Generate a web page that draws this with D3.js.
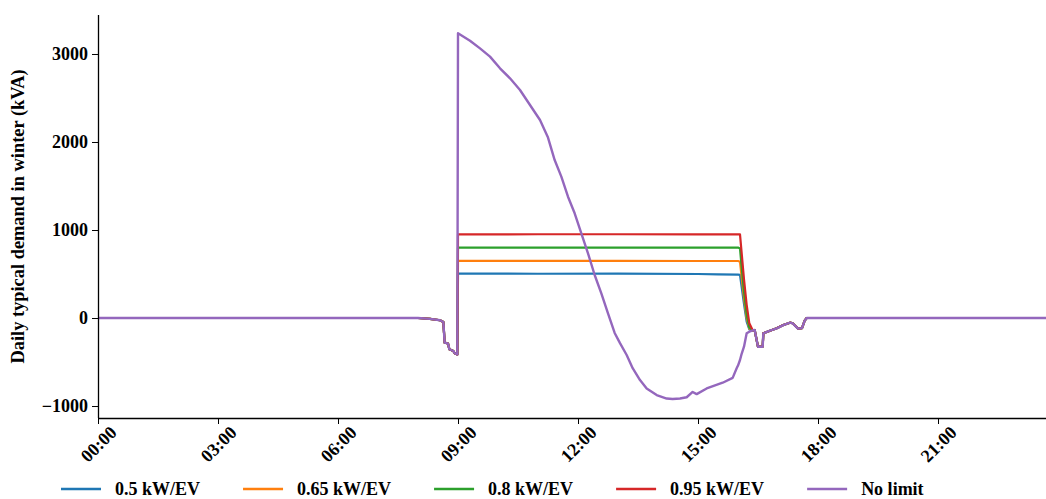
<!DOCTYPE html>
<html>
<head>
<meta charset="utf-8">
<script src="https://cdn.jsdelivr.net/npm/d3@7"></script>
<style>
  html, body { margin: 0; padding: 0; background: #fff; }
  text { font-family: "Liberation Serif", "Times New Roman", serif; font-weight: bold; }
</style>
</head>
<body>
<svg id="chart" width="1046" height="499"></svg>
<script>
// ---------------- DATA ----------------
const seriesNames = ["0.5 kW/EV", "0.65 kW/EV", "0.8 kW/EV", "0.95 kW/EV", "No limit"];
const seriesColors = ["#1f77b4", "#ff7f0e", "#2ca02c", "#d62728", "#9467bd"];

// shared morning part (all scenarios identical before 09:00)
const morningTimes  = ["00:00","08:00","08:18","08:33","08:38","08:40","08:45","08:47","08:53","08:55","08:59"];
const morningValues = [0, 0, -10, -25, -45, -280, -290, -355, -375, -400, -415];

// shared evening part (all scenarios identical after ~16:22)
const eveningTimes  = ["16:22","16:25","16:30","16:37","16:38","16:48","16:58","17:08","17:18","17:22","17:30","17:36","17:40","17:43","23:42"];
const eveningValues = [-140, -136, -326, -326, -174, -144, -117, -80, -53, -60, -120, -115, -30, 0, 0];

// unlimited charging, 09:00 - 16:17
const noLimitTimes  = ["09:00","09:18","09:33","09:48","10:03","10:18","10:33","10:48","11:03","11:15","11:25","11:35","11:45","11:55","12:05","12:15","12:25","12:35","12:45","12:55","13:03","13:13","13:22","13:33","13:43","13:58","14:13","14:22","14:33","14:43","14:52","14:58","15:13","15:37","15:52","15:58","16:00","16:03","16:05","16:09","16:13","16:17"];
const noLimitValues = [3235, 3151, 3064, 2970, 2837, 2724, 2591, 2420, 2250, 2050, 1795, 1606, 1378, 1190, 962, 735, 489, 280, 53, -170, -285, -420, -570, -705, -800, -875, -915, -920, -915, -900, -840, -865, -800, -735, -680, -570, -540, -477, -420, -326, -174, -155];

// limited charging scenarios, 09:00 - 16:17
const limitTimes   = ["09:00","11:00","13:00","15:00","15:30","16:00","16:03","16:05","16:09","16:13","16:17"];
const limit050     = [505, 503, 505, 500, 495, 493, 490, 380, 160, -40, -130];
const limit065     = [650, 650, 650, 648, 648, 648, 640, 500, 230, 0, -120];
const limit080     = [800, 800, 800, 800, 800, 800, 790, 620, 300, 40, -110];
const limit095     = [950, 952, 952, 950, 950, 950, 950, 780, 440, 150, -60];

const xTickLabels = ["00:00","03:00","06:00","09:00","12:00","15:00","18:00","21:00"];
const yTickValues = [-1000, 0, 1000, 2000, 3000];
const yLabel = "Daily typical demand in winter (kVA)";

// ---------------- BUILD ----------------
const toMin = s => { const [h, m] = s.split(":").map(Number); return h * 60 + m; };
const zip = (t, v) => t.map((s, i) => ({ t: toMin(s), v: v[i] }));
const build = (t, v) => zip(morningTimes, morningValues).concat(zip(t, v), zip(eveningTimes, eveningValues));

const series = [
  build(limitTimes, limit050),
  build(limitTimes, limit065),
  build(limitTimes, limit080),
  build(limitTimes, limit095),
  build(noLimitTimes, noLimitValues)
];

const svg = d3.select("#chart");
const L = 98, R = 1046, T = 15, B = 418;

const x = d3.scaleLinear().domain([0, toMin("23:42")]).range([L, R]);
const y = d3.scaleLinear().domain([-1136, 3443]).range([B, T]);

svg.append("defs").append("clipPath").attr("id", "clip")
  .append("rect").attr("x", L).attr("y", T).attr("width", R - L).attr("height", B - T);

const line = d3.line().x(d => x(d.t)).y(d => y(d.v));

const g = svg.append("g").attr("clip-path", "url(#clip)");
series.forEach((s, i) => {
  g.append("path").datum(s)
    .attr("d", line)
    .attr("fill", "none")
    .attr("stroke", seriesColors[i])
    .attr("stroke-width", i === 4 ? 2.4 : 2.2)
    .attr("stroke-linejoin", "round");
});

// axes
const fontSize = 18;
const yAxis = d3.axisLeft(y).tickValues(yTickValues).tickSize(6).tickSizeOuter(0).tickPadding(4)
  .tickFormat(d => d < 0 ? "\u2212" + Math.abs(d) : String(d));
const ya = svg.append("g").attr("transform", `translate(${L},0)`).call(yAxis);
ya.select(".domain").attr("d", `M0.5,${T}V${B}`).attr("stroke", "#000").attr("stroke-width", 1.3);
ya.selectAll("text").attr("font-size", fontSize).attr("fill", "#000")
  .style("font-family", "'Liberation Serif', serif").style("font-weight", "bold");

const xAxis = d3.axisBottom(x).tickValues(xTickLabels.map(toMin)).tickSize(6).tickSizeOuter(0)
  .tickFormat((d, i) => xTickLabels[i]);
const xa = svg.append("g").attr("transform", `translate(0,${B})`).call(xAxis);
xa.select(".domain").attr("d", `M${L},0.5H${R}`).attr("stroke", "#000").attr("stroke-width", 1.3);
xa.selectAll("text")
  .attr("font-size", fontSize).attr("fill", "#000")
  .style("font-family", "'Liberation Serif', serif").style("font-weight", "bold")
  .attr("y", 0).attr("dy", "0.35em")
  .attr("text-anchor", "middle")
  .attr("transform", "translate(0,26) rotate(-45)");

// y label
svg.append("text")
  .attr("transform", `translate(24,${(T + B) / 2}) rotate(-90)`)
  .attr("text-anchor", "middle")
  .attr("font-size", 18.4)
  .text(yLabel);

// legend
const lg = svg.append("g");
let cx = 61;
const ly = 489;
seriesNames.forEach((name, i) => {
  lg.append("line").attr("x1", cx).attr("x2", cx + 40).attr("y1", ly).attr("y2", ly)
    .attr("stroke", seriesColors[i]).attr("stroke-width", 2.6);
  const t = lg.append("text").attr("x", cx + 54).attr("y", ly).attr("dy", "0.35em")
    .attr("font-size", fontSize).text(name);
  cx = cx + 54 + t.node().getComputedTextLength() + 43;
});
</script>
</body>
</html>
